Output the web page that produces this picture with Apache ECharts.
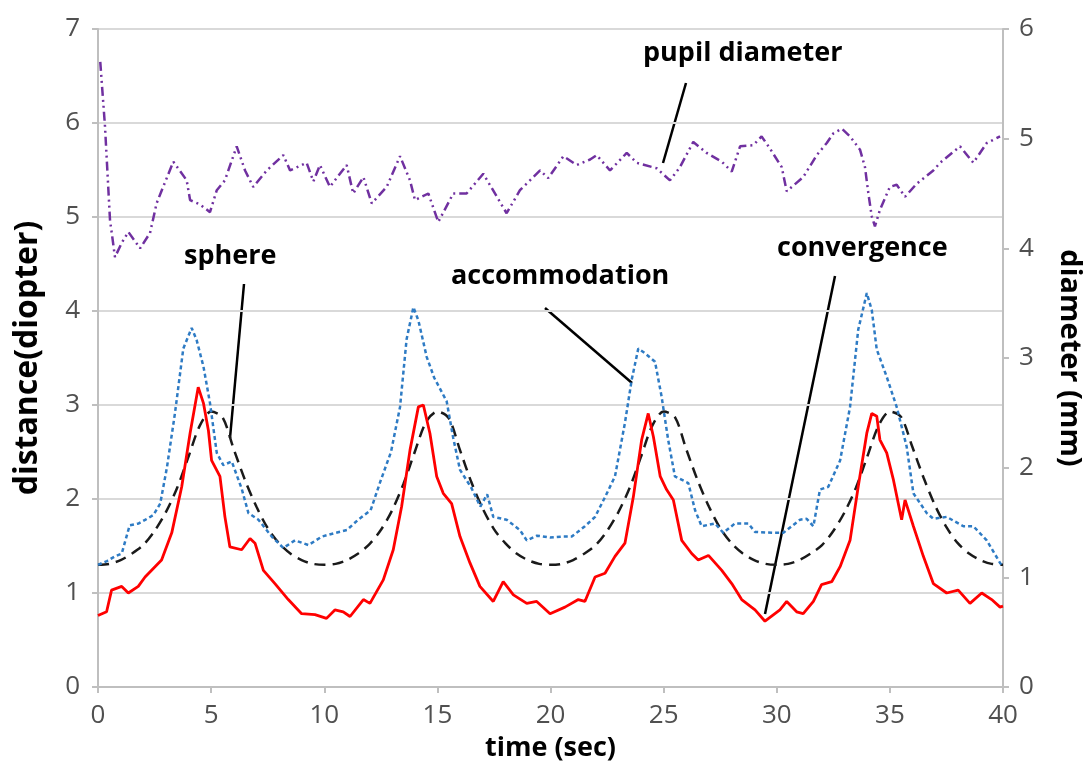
<!DOCTYPE html>
<html>
<head>
<meta charset="utf-8">
<script src="https://cdn.jsdelivr.net/npm/echarts@6/dist/echarts.min.js"></script>
<style>html,body{margin:0;padding:0;background:#fff;overflow:hidden}#c{width:1084px;height:764px}</style>
</head>
<body>
<div id="c"></div>
<script>
// x tick labels and axis ranges
const xTicks = [0,5,10,15,20,25,30,35,40];

// sphere (black dashed) sampled every 0.5 s
const sphereT = [];
for (let i = 0; i <= 80; i++) sphereT.push(i * 0.5);
const sphereV = [
1.30,1.31,1.35,1.42,1.51,1.66,1.86,2.12,2.45,2.78,2.93,2.87,2.53,2.20,1.92,1.69,1.53,1.42,1.35,1.31,
1.30,1.31,1.35,1.42,1.52,1.67,1.88,2.16,2.50,2.82,2.93,2.86,2.52,2.18,1.90,1.68,1.53,1.42,1.35,1.31,
1.30,1.31,1.35,1.42,1.51,1.66,1.86,2.12,2.45,2.78,2.93,2.87,2.53,2.20,1.92,1.69,1.53,1.42,1.35,1.31,
1.30,1.31,1.35,1.42,1.51,1.66,1.86,2.12,2.45,2.78,2.93,2.87,2.55,2.22,1.93,1.70,1.53,1.42,1.35,1.31,
1.30];

// accommodation (blue dotted)
const accT = [0,0.4,0.75,1.05,1.4,1.8,2.1,2.45,2.75,3.05,3.4,3.77,4.14,4.36,4.66,4.95,5.25,5.54,5.91,6.35,6.65,7.09,7.68,8.19,8.71,9.3,9.89,10.5,11.0,11.5,12.05,12.5,12.95,13.35,13.64,13.94,14.16,14.53,14.86,15.41,15.7,16.0,16.5,16.9,17.2,17.47,18.06,18.65,18.95,19.4,19.98,20.5,20.94,21.52,21.97,22.41,22.85,23.29,23.59,23.88,24.18,24.62,24.91,25.2,25.5,26.09,26.39,26.68,27.27,27.64,28.15,28.74,29.04,29.8,30.29,31.03,31.32,31.62,31.91,32.28,32.8,33.24,33.6,33.98,34.2,34.42,34.86,35.3,35.74,36.04,36.63,36.92,37.51,38.25,38.69,39.28,39.87,40];
const accV = [1.30,1.34,1.39,1.42,1.72,1.74,1.78,1.83,1.95,2.34,2.91,3.60,3.82,3.69,3.41,3.02,2.49,2.36,2.40,2.11,1.85,1.78,1.60,1.48,1.56,1.51,1.60,1.64,1.67,1.78,1.88,2.20,2.50,2.98,3.70,4.04,3.90,3.51,3.29,3.04,2.65,2.31,2.12,1.92,2.05,1.81,1.78,1.67,1.56,1.61,1.59,1.60,1.60,1.71,1.81,2.02,2.24,2.81,3.27,3.60,3.55,3.46,3.09,2.63,2.24,2.17,1.88,1.71,1.74,1.64,1.74,1.74,1.65,1.64,1.64,1.78,1.79,1.71,2.10,2.13,2.41,2.98,3.80,4.19,4.01,3.59,3.30,2.98,2.56,2.06,1.85,1.79,1.81,1.71,1.71,1.56,1.32,1.28];

// convergence (red solid)
const convT = [0,0.38,0.6,1.05,1.34,1.78,2.08,2.52,2.81,3.26,3.7,4.07,4.43,4.66,4.88,5.02,5.39,5.61,5.83,6.35,6.72,6.94,7.31,7.82,8.41,9.0,9.59,10.1,10.47,10.84,11.14,11.73,12.02,12.61,13.05,13.42,13.79,14.16,14.38,14.67,14.97,15.26,15.63,16.0,16.44,16.88,17.47,17.91,18.36,18.95,19.39,19.98,20.64,21.23,21.52,21.97,22.41,22.85,23.29,23.66,24.03,24.32,24.55,24.85,25.13,25.43,25.8,26.24,26.53,26.98,27.57,28.01,28.45,29.04,29.48,29.92,30.14,30.44,30.88,31.17,31.62,31.98,32.43,32.8,33.24,33.6,33.98,34.2,34.42,34.56,34.86,35.16,35.52,35.67,36.04,36.48,36.92,37.51,38.02,38.54,39.06,39.5,39.87,40];
const convV = [0.76,0.80,1.03,1.07,1.00,1.07,1.17,1.28,1.35,1.64,2.13,2.70,3.19,3.02,2.73,2.41,2.24,1.81,1.49,1.46,1.58,1.53,1.24,1.10,0.93,0.78,0.77,0.73,0.82,0.80,0.75,0.93,0.89,1.14,1.46,1.92,2.52,2.98,3.00,2.70,2.24,2.06,1.95,1.60,1.32,1.07,0.91,1.12,0.98,0.89,0.91,0.78,0.85,0.93,0.91,1.17,1.21,1.39,1.53,2.02,2.63,2.91,2.66,2.24,2.10,1.99,1.56,1.42,1.35,1.40,1.24,1.10,0.93,0.82,0.70,0.78,0.82,0.91,0.80,0.78,0.91,1.09,1.12,1.28,1.56,2.13,2.70,2.91,2.88,2.63,2.49,2.20,1.78,1.99,1.71,1.39,1.10,1.00,1.03,0.89,1.00,0.93,0.85,0.86];

// pupil diameter (purple dash-dot-dot, right axis, mm)
const pupilT = [0.1,0.31,0.46,0.53,0.75,1.05,1.34,1.86,2.3,2.59,2.82,3.33,3.92,4.07,4.51,4.95,5.25,5.61,6.13,6.5,6.86,7.46,8.19,8.49,9.22,9.52,9.81,10.25,10.99,11.28,11.73,12.1,12.76,13.35,13.79,14.01,14.6,15.04,15.7,16.29,17.03,18.06,18.65,19.54,19.9,20.57,21.16,21.75,22.04,22.63,23.37,23.81,24.69,25.28,25.72,26.31,26.9,27.57,28.01,28.38,28.96,29.33,29.7,30.22,30.44,31.17,31.77,32.21,32.51,32.88,33.24,33.68,33.9,34.05,34.2,34.34,34.56,35.0,35.3,35.67,36.19,36.92,37.22,38.1,38.69,39.28,39.87];
const pupilV = [5.70,5.11,4.53,4.26,3.92,4.05,4.15,4.00,4.14,4.41,4.53,4.79,4.62,4.44,4.40,4.33,4.53,4.62,4.93,4.71,4.56,4.71,4.85,4.71,4.78,4.61,4.76,4.56,4.76,4.50,4.65,4.41,4.56,4.84,4.62,4.44,4.50,4.24,4.50,4.50,4.68,4.32,4.53,4.71,4.64,4.84,4.76,4.81,4.85,4.71,4.87,4.78,4.73,4.62,4.74,4.97,4.87,4.79,4.70,4.93,4.94,5.02,4.91,4.74,4.52,4.65,4.85,4.96,5.05,5.09,5.02,4.90,4.74,4.50,4.29,4.20,4.35,4.56,4.58,4.47,4.59,4.71,4.78,4.93,4.78,4.96,5.02];

const zip = (t, v) => t.map((x, i) => [x, v[i]]);

const chart = echarts.init(document.getElementById('c'), null, {renderer: 'canvas', width: 1084, height: 764});
const labelFont = {fontFamily: 'Open Sans', fontWeight: 'bold', fontSize: 27, fill: '#000'};
const tickLabel = {fontFamily: 'Open Sans', fontSize: 26, color: '#505050'};

chart.setOption({
  animation: false,
  backgroundColor: '#fff',
  grid: {left: 98, right: 81, top: 29, bottom: 77, containLabel: false, outerBoundsMode: 'none'},
  xAxis: {
    type: 'value', min: 0, max: 40, interval: 5,
    name: 'time (sec)', nameLocation: 'middle', nameGap: 48,
    nameTextStyle: {fontFamily: 'Open Sans', fontWeight: 'bold', fontSize: 27, color: '#000'},
    axisLine: {show: true, lineStyle: {color: '#BFBFBF', width: 2}},
    axisTick: {show: true, length: 6, lineStyle: {color: '#BFBFBF', width: 2}},
    axisLabel: Object.assign({margin: 16, formatter: v => xTicks.includes(v) ? String(v) : ''}, tickLabel),
    splitLine: {show: false}
  },
  yAxis: [{
    type: 'value', min: 0, max: 7, interval: 1,
    name: 'distance(diopter)', nameLocation: 'middle', nameGap: 54, nameRotate: 90,
    nameTextStyle: {fontFamily: 'Open Sans', fontWeight: 'bold', fontSize: 32, color: '#000'},
    axisLine: {show: true, lineStyle: {color: '#BFBFBF', width: 2}},
    axisTick: {show: true, length: 6, lineStyle: {color: '#BFBFBF', width: 2}},
    axisLabel: Object.assign({margin: 18}, tickLabel),
    splitLine: {show: true, lineStyle: {color: '#D9D9D9', width: 2}}
  }, {
    type: 'value', min: 0, max: 6, interval: 1, position: 'right',
    name: 'diameter (mm)', nameLocation: 'middle', nameGap: 52, nameRotate: -90,
    nameTextStyle: {fontFamily: 'Open Sans', fontWeight: 'bold', fontSize: 29, color: '#000'},
    axisLine: {show: true, lineStyle: {color: '#BFBFBF', width: 2}},
    axisTick: {show: true, length: 6, lineStyle: {color: '#BFBFBF', width: 2}},
    axisLabel: Object.assign({margin: 16}, tickLabel),
    splitLine: {show: false}
  }],
  series: [
    {name: 'sphere', type: 'line', data: zip(sphereT, sphereV), symbol: 'none', smooth: 0.3,
     lineStyle: {color: '#1a1a1a', width: 2.5, type: [11, 7]}},
    {name: 'accommodation', type: 'line', data: zip(accT, accV), symbol: 'none',
     lineStyle: {color: '#2E7BC4', width: 2.5, type: [4, 3]}},
    {name: 'convergence', type: 'line', data: zip(convT, convV), symbol: 'none',
     lineStyle: {color: '#FF0000', width: 2.8}},
    {name: 'pupil diameter', type: 'line', yAxisIndex: 1, data: zip(pupilT, pupilV), symbol: 'none',
     lineStyle: {color: '#7030A0', width: 2.5, type: [9, 4, 2, 4, 2, 4]}}
  ],
  graphic: [
    {type: 'text', left: 643, top: 40, style: Object.assign({text: 'pupil diameter'}, labelFont)},
    {type: 'line', shape: {x1: 686, y1: 83, x2: 663, y2: 163}, style: {stroke: '#000', lineWidth: 2.5}},
    {type: 'text', left: 184, top: 243, style: Object.assign({text: 'sphere'}, labelFont)},
    {type: 'line', shape: {x1: 244, y1: 284, x2: 230, y2: 438}, style: {stroke: '#000', lineWidth: 2.5}},
    {type: 'text', left: 451, top: 263, style: Object.assign({text: 'accommodation'}, labelFont)},
    {type: 'line', shape: {x1: 545, y1: 308, x2: 632, y2: 383}, style: {stroke: '#000', lineWidth: 2.5}},
    {type: 'text', left: 777, top: 235, style: Object.assign({text: 'convergence'}, labelFont)},
    {type: 'line', shape: {x1: 835, y1: 276, x2: 765, y2: 614}, style: {stroke: '#000', lineWidth: 2.5}}
  ]
});
</script>
</body>
</html>
